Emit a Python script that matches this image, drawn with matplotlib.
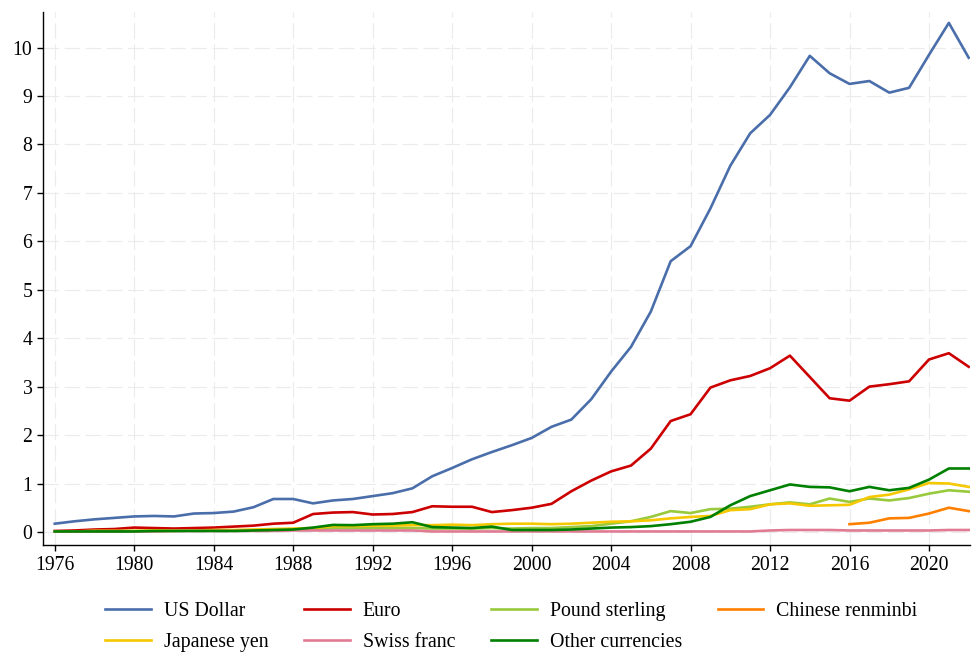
import numpy as np
import matplotlib
matplotlib.use('Agg')
import matplotlib.pyplot as plt

plt.rcParams['font.family'] = ['Liberation Serif', 'DejaVu Serif']

years = np.arange(1976, 2023)

usd = [0.17, 0.22, 0.26, 0.29, 0.32, 0.33, 0.32, 0.38, 0.39, 0.42,
       0.51, 0.68, 0.68, 0.59, 0.65, 0.68, 0.74, 0.80, 0.90, 1.15,
       1.32, 1.50, 1.65, 1.79, 1.94, 2.17, 2.32, 2.74, 3.31, 3.82,
       4.55, 5.59, 5.90, 6.68, 7.56, 8.23, 8.61, 9.18, 9.83, 9.47,
       9.25, 9.31, 9.07, 9.17, 9.85, 10.51, 9.79]
euro = [0.02, 0.03, 0.05, 0.06, 0.09, 0.08, 0.07, 0.08, 0.09, 0.11,
        0.13, 0.17, 0.19, 0.37, 0.40, 0.41, 0.36, 0.37, 0.41, 0.53,
        0.52, 0.52, 0.41, 0.45, 0.50, 0.58, 0.84, 1.06, 1.25, 1.37,
        1.72, 2.29, 2.43, 2.98, 3.13, 3.22, 3.38, 3.64, 3.20, 2.76,
        2.71, 3.00, 3.05, 3.11, 3.56, 3.69, 3.41]
pound = [0.01, 0.01, 0.02, 0.02, 0.02, 0.02, 0.02, 0.03, 0.03, 0.03,
         0.03, 0.04, 0.05, 0.06, 0.08, 0.08, 0.08, 0.08, 0.08, 0.07,
         0.07, 0.07, 0.08, 0.07, 0.08, 0.08, 0.10, 0.12, 0.17, 0.22,
         0.31, 0.43, 0.39, 0.47, 0.48, 0.52, 0.57, 0.61, 0.57, 0.69,
         0.62, 0.69, 0.65, 0.70, 0.79, 0.86, 0.83]
rmb = [np.nan] * 40 + [0.16, 0.19, 0.28, 0.29, 0.38, 0.50, 0.43]
yen = [0.01, 0.01, 0.02, 0.02, 0.02, 0.03, 0.03, 0.03, 0.04, 0.04,
       0.05, 0.06, 0.07, 0.08, 0.12, 0.12, 0.13, 0.13, 0.14, 0.14,
       0.15, 0.14, 0.16, 0.17, 0.17, 0.16, 0.17, 0.19, 0.21, 0.22,
       0.24, 0.28, 0.31, 0.33, 0.45, 0.47, 0.57, 0.59, 0.54, 0.55,
       0.56, 0.72, 0.77, 0.88, 1.01, 1.00, 0.93]
chf = [0.01, 0.01, 0.01, 0.01, 0.01, 0.01, 0.02, 0.02, 0.02, 0.02,
       0.02, 0.02, 0.03, 0.03, 0.03, 0.03, 0.03, 0.03, 0.03, 0.01,
       0.01, 0.01, 0.01, 0.01, 0.01, 0.01, 0.01, 0.01, 0.01, 0.01,
       0.01, 0.01, 0.01, 0.01, 0.01, 0.01, 0.03, 0.04, 0.04, 0.04,
       0.03, 0.03, 0.03, 0.03, 0.03, 0.04, 0.04]
other = [0.01, 0.01, 0.01, 0.01, 0.01, 0.02, 0.02, 0.02, 0.02, 0.02,
         0.03, 0.04, 0.05, 0.09, 0.145, 0.14, 0.16, 0.17, 0.20, 0.10,
         0.09, 0.08, 0.11, 0.04, 0.04, 0.04, 0.05, 0.07, 0.09, 0.10,
         0.12, 0.16, 0.21, 0.31, 0.55, 0.74, 0.86, 0.98, 0.93, 0.92,
         0.84, 0.93, 0.86, 0.91, 1.08, 1.31, 1.31]

fig = plt.figure(figsize=(9.74, 6.53), dpi=100)
ax = fig.add_axes([0.044, 0.165, 0.952, 0.817])

lw = 1.9
l_usd, = ax.plot(years, usd, color='#4a6eaa', lw=lw, label='US Dollar')
l_eur, = ax.plot(years, euro, color='#cc0000', lw=lw, label='Euro')
l_gbp, = ax.plot(years, pound, color='#99c93c', lw=lw, label='Pound sterling')
l_rmb, = ax.plot(years, rmb, color='#ff8000', lw=lw, label='Chinese renminbi')
l_yen, = ax.plot(years, yen, color='#f5c800', lw=lw, label='Japanese yen')
l_chf, = ax.plot(years, chf, color='#e07b93', lw=lw, label='Swiss franc')
l_oth, = ax.plot(years, other, color='#008000', lw=lw, label='Other currencies')

ax.set_xlim(1975.4, 2022.07)
ax.set_ylim(-0.275, 10.74)
ax.set_xticks(np.arange(1976, 2021, 4))
ax.set_yticks(np.arange(0, 11, 1))
ax.grid(True, color='#ebebeb', linestyle=(0, (14, 5)), linewidth=0.8)
ax.set_axisbelow(True)

for s in ['top', 'right']:
    ax.spines[s].set_visible(False)
for s in ['left', 'bottom']:
    ax.spines[s].set_linewidth(1.0)
ax.tick_params(direction='out', length=4, width=1, labelsize=14.2)

handles = [l_usd, l_yen, l_eur, l_chf, l_gbp, l_oth, l_rmb]
fig.legend(handles=handles, labels=[h.get_label() for h in handles],
           ncol=4, loc='center', bbox_to_anchor=(0.525, 0.04),
           frameon=False, fontsize=14.3, handlelength=2.3,
           handletextpad=0.65, columnspacing=1.8, labelspacing=0.6,
           borderpad=0.2)

fig.savefig('out.png', dpi=100)
